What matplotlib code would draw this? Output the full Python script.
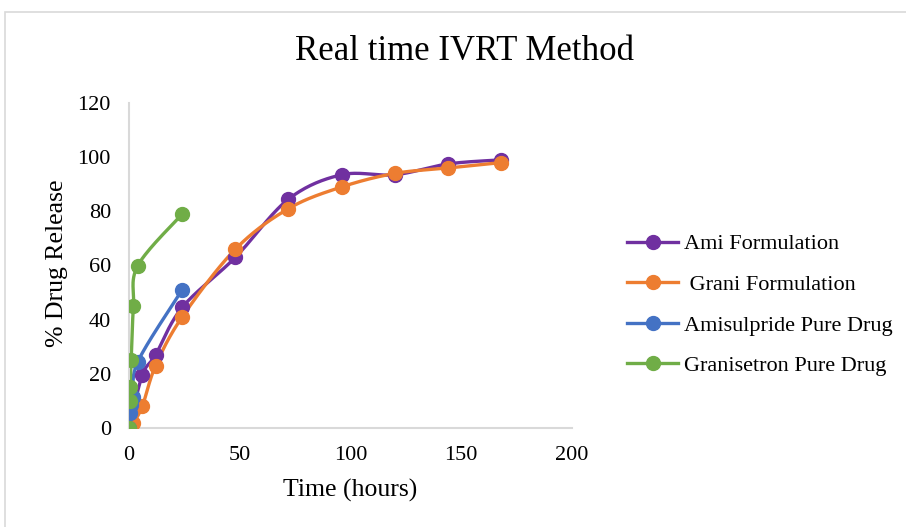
import numpy as np
import matplotlib
matplotlib.use("Agg")
import matplotlib.pyplot as plt
from matplotlib.patches import Rectangle

plt.rcParams['font.family'] = ['Liberation Serif', 'DejaVu Serif']

# Data
ami_t = [0, 6, 12, 24, 48, 72, 96, 120, 144, 168]
ami_v = [0, 19.5, 27, 44.5, 63, 84.5, 93.5, 93.5, 97.5, 99]
grani_t = [0, 2, 6, 12, 24, 48, 72, 96, 120, 144, 168]
grani_v = [0, 2, 8, 23, 41, 66, 81, 89, 94, 96, 98]
amis_t = [0, 0.5, 1, 2, 4, 24]
amis_v = [0, 5.5, 8.5, 11.5, 24.5, 51]
granis_t = [0, 0.25, 0.5, 1, 2, 4, 24]
granis_v = [0, 10, 15, 25, 45, 60, 79]

labels = ["Ami Formulation", " Grani Formulation",
          "Amisulpride Pure Drug", "Granisetron Pure Drug"]
colors = ["#7030A0", "#ED7D31", "#4472C4", "#70AD47"]
series = [(ami_t, ami_v), (grani_t, grani_v), (amis_t, amis_v), (granis_t, granis_v)]

xticks = [0, 50, 100, 150, 200]
yticks = [0, 20, 40, 60, 80, 100, 120]


def smooth(x, y, n=30):
    """Excel-like Bezier smoothing through the points."""
    x = np.asarray(x, float)
    y = np.asarray(y, float)
    P = np.column_stack([x, y])
    m = len(P)
    out = [P[0]]
    s = np.linspace(0, 1, n)[1:]
    for i in range(m - 1):
        p0 = P[i - 1] if i > 0 else P[i]
        p1 = P[i]
        p2 = P[i + 1]
        p3 = P[i + 2] if i + 2 < m else P[i + 1]
        c1 = p1 + (p2 - p0) / 6.0
        c2 = p2 - (p3 - p1) / 6.0
        for t in s:
            b = ((1 - t) ** 3) * p1 + 3 * ((1 - t) ** 2) * t * c1 + 3 * (1 - t) * t ** 2 * c2 + t ** 3 * p2
            out.append(b)
    out = np.array(out)
    return out[:, 0], out[:, 1]


fig = plt.figure(figsize=(9.06, 5.27), dpi=100)
fig.patches.append(Rectangle((5 / 906, -0.05), 1.2, (527 - 12) / 527 + 0.05,
                             transform=fig.transFigure, fill=False,
                             edgecolor="#D9D9D9", linewidth=1.2, zorder=0))

ax = fig.add_axes([129 / 906, (527 - 428) / 527, (572 - 129) / 906, (428 - 103) / 527])

handles = []
for (t, v), c, lab in zip(series, colors, labels):
    sx, sy = smooth(t, v)
    ax.plot(sx, sy, color=c, lw=2.4, solid_capstyle='round', zorder=2)
    ax.plot(t, v, 'o', color=c, ms=10, zorder=3)
    h, = ax.plot([], [], '-o', color=c, lw=2.4, ms=10, label=lab)
    handles.append(h)

ax.set_xlim(0, 200)
ax.set_ylim(0, 120)
ax.set_xticks(xticks)
ax.set_yticks(yticks)
for side in ['top', 'right']:
    ax.spines[side].set_visible(False)
for side in ['left', 'bottom']:
    ax.spines[side].set_color('#D9D9D9')
    ax.spines[side].set_linewidth(1.5)
ax.tick_params(length=0, labelsize=16, colors='#000000', pad=13)
for lab in ax.get_xticklabels() + ax.get_yticklabels():
    lab.set_color('#000000')

fig.text(350 / 906, 1 - 490 / 527, "Time (hours)", ha='center', va='center', fontsize=18.5)
fig.text(57 / 906, 1 - 263 / 527, "% Drug Release", ha='center', va='center',
         rotation=90, fontsize=18.5)
fig.text(465 / 906, 1 - 52 / 527, "Real time IVRT Method", ha='center', va='center', fontsize=25)

fig.legend(handles=handles, loc='center left', bbox_to_anchor=(616 / 906, 1 - 305 / 527),
           frameon=False, fontsize=16, handlelength=2.3, labelspacing=0.9,
           handletextpad=0.27, borderpad=0)

fig.savefig("out.png", dpi=100)
